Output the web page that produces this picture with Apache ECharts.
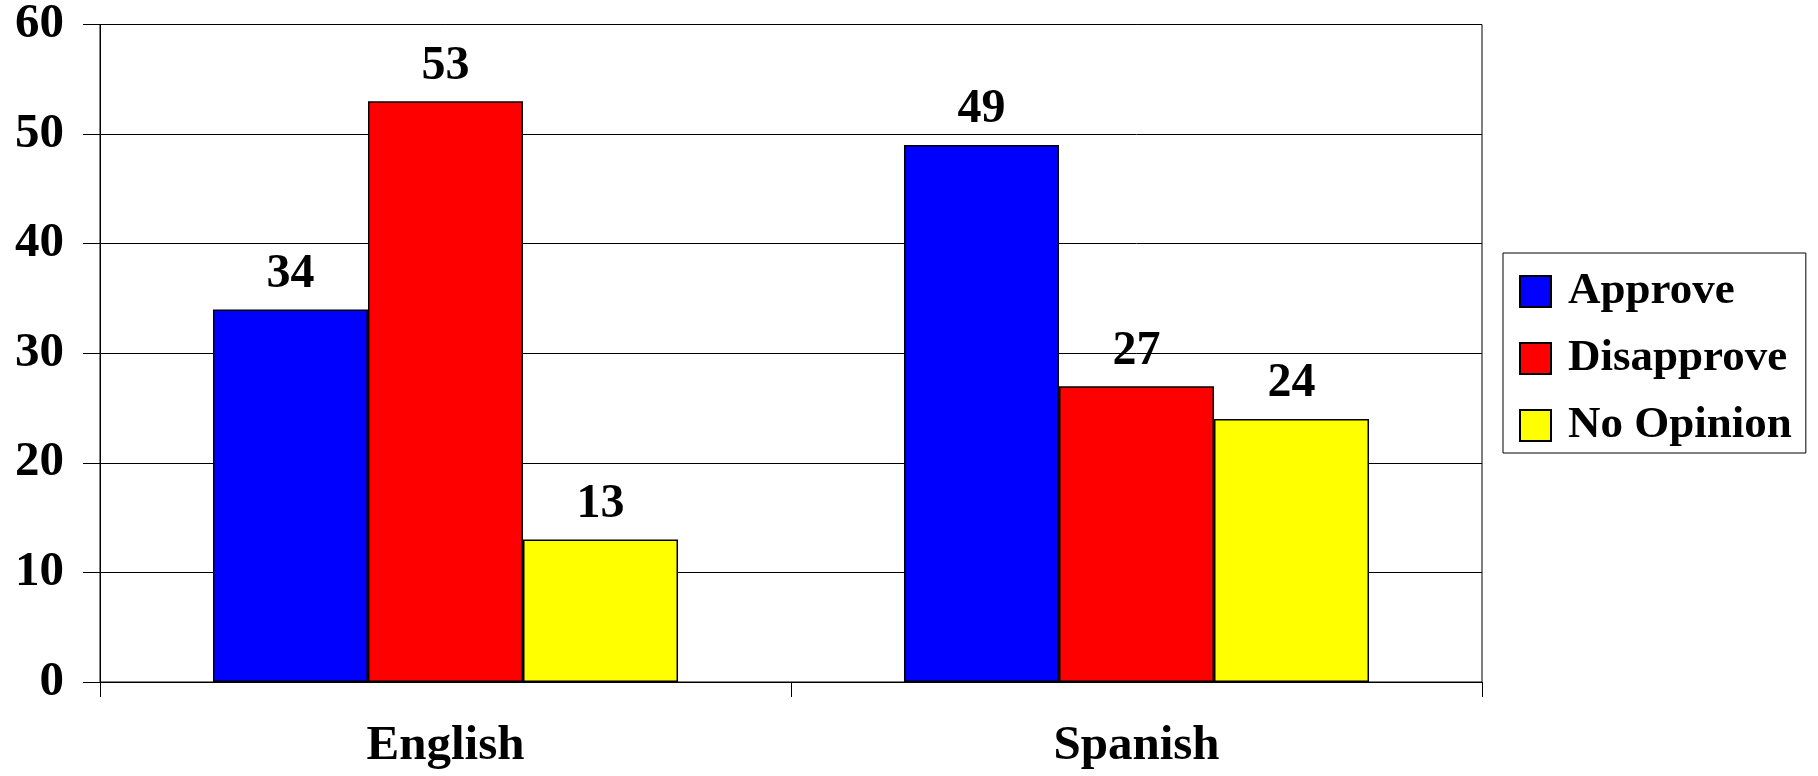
<!DOCTYPE html>
<html>
<head>
<meta charset="utf-8">
<script src="https://cdn.jsdelivr.net/npm/echarts@6/dist/echarts.min.js"></script>
<style>
html,body{margin:0;padding:0;background:#fff;}
#chart{width:1818px;height:776px;}
</style>
</head>
<body>
<div id="chart"></div>
<script>
const categories = ['English', 'Spanish'];
const seriesNames = ['Approve', 'Disapprove', 'No Opinion'];
const approve = [34, 49];
const disapprove = [53, 27];
const noOpinion = [13, 24];
const yTicks = [0, 10, 20, 30, 40, 50, 60];

const colors = ['#0000FF', '#FF0000', '#FFFF00'];
const values = [approve, disapprove, noOpinion];
const font = 'Liberation Serif';

const chart = echarts.init(document.getElementById('chart'), null, {renderer: 'canvas'});
chart.setOption({
  animation: false,
  backgroundColor: '#fff',
  grid: {
    left: 100, right: 336, top: 21, bottom: 94,
    show: true, borderColor: '#000', borderWidth: 1
  },
  legend: {
    orient: 'vertical',
    left: 1503, top: 253,
    padding: [16, 14, 5, 16],
    borderColor: '#000', borderWidth: 1,
    itemWidth: 31, itemHeight: 31, itemGap: 22,
    icon: 'rect',
    textStyle: {
      fontFamily: font, fontWeight: 'bold', fontSize: 45, color: '#000',
      padding: [0, 0, 0, 12]
    },
    data: seriesNames
  },
  xAxis: {
    type: 'category',
    data: categories,
    axisLine: {lineStyle: {color: '#000', width: 1}},
    axisTick: {show: true, length: 15, lineStyle: {color: '#000', width: 1}},
    axisLabel: {
      margin: 40, fontFamily: font, fontWeight: 'bold', fontSize: 49, color: '#000'
    }
  },
  yAxis: {
    type: 'value',
    min: yTicks[0], max: yTicks[yTicks.length - 1], interval: 10,
    axisLine: {show: true, lineStyle: {color: '#000', width: 1}},
    axisTick: {show: true, length: 17, lineStyle: {color: '#000', width: 1}},
    splitLine: {show: true, lineStyle: {color: '#000', width: 1}},
    axisLabel: {
      margin: 36, fontFamily: font, fontWeight: 'bold', fontSize: 49, color: '#000'
    }
  },
  series: seriesNames.map((name, i) => ({
    name: name,
    type: 'bar',
    data: values[i],
    barGap: 0,
    barCategoryGap: '32.7%',
    itemStyle: {color: colors[i], borderColor: '#000', borderWidth: 1.5},
    label: {
      show: true, position: 'top', distance: 11,
      fontFamily: font, fontWeight: 'bold', fontSize: 48, color: '#000'
    }
  }))
});
</script>
</body>
</html>
